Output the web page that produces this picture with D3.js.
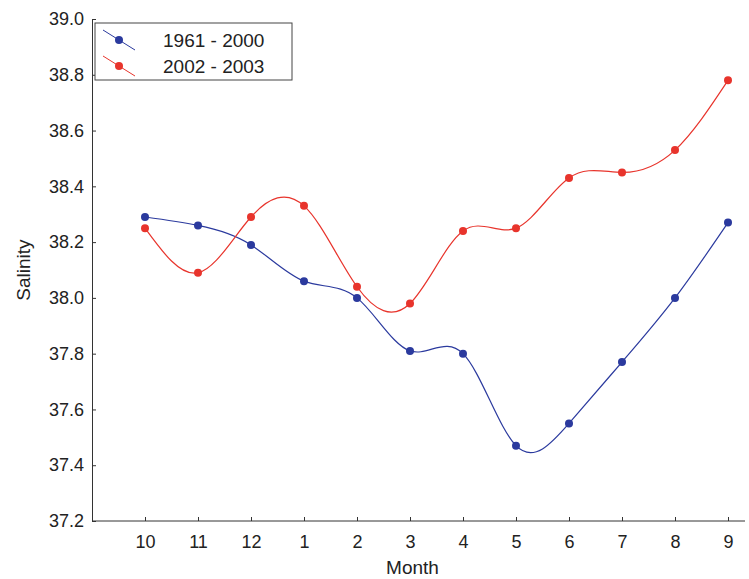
<!DOCTYPE html>
<html><head><meta charset="utf-8">
<script src="https://cdn.jsdelivr.net/npm/d3@7"></script>
<style>body{margin:0;background:#fff}text{font-family:"Liberation Sans",Arial,sans-serif;fill:#222}</style>
</head><body>
<script>
var months = ["10","11","12","1","2","3","4","5","6","7","8","9"];
var series1 = [38.29, 38.26, 38.19, 38.06, 38.00, 37.81, 37.80, 37.47, 37.55, 37.77, 38.00, 38.27];
var series2 = [38.25, 38.09, 38.29, 38.33, 38.04, 37.98, 38.24, 38.25, 38.43, 38.45, 38.53, 38.78];
var yTicks = [37.2, 37.4, 37.6, 37.8, 38.0, 38.2, 38.4, 38.6, 38.8, 39.0];
var names = ["1961 - 2000", "2002 - 2003"];
var colors = ["#2b3a9e", "#e8342c"];

var W = 749, H = 579, m = {l: 92, r: 4, t: 19, b: 58};
var svg = d3.select("body").append("svg").attr("width", W).attr("height", H);

var x = d3.scalePoint().domain(months).range([m.l + 53, m.l + 53 * 12]);
var y = d3.scaleLinear().domain([37.2, 39.0]).range([H - m.b, m.t]);

var gx = svg.append("g").attr("transform", "translate(0," + (H - m.b) + ")")
  .call(d3.axisBottom(x).tickSizeInner(-4).tickSizeOuter(0).tickPadding(14));
gx.select(".domain").attr("d", "M" + m.l + ",0H" + (W - m.r));
var gy = svg.append("g").attr("transform", "translate(" + m.l + ",0)")
  .call(d3.axisLeft(y).tickValues(yTicks).tickFormat(d3.format(".1f")).tickSizeInner(-4).tickSizeOuter(0).tickPadding(8));
svg.selectAll(".tick text").style("font-size", "18px");
svg.selectAll(".domain, .tick line").attr("stroke", "#333");

svg.append("text").attr("x", (m.l + W) / 2 - 8).attr("y", H - 5).attr("text-anchor", "middle")
  .style("font-size", "19px").text("Month");
svg.append("text").attr("transform", "translate(30," + ((H - m.b + m.t) / 2) + ") rotate(-90)")
  .attr("text-anchor", "middle").style("font-size", "19px").text("Salinity");

var line = d3.line().x(function(d, i){ return x(months[i]); }).y(function(d){ return y(d); }).curve(d3.curveNatural);

[series1, series2].forEach(function(s, k){
  svg.append("path").datum(s).attr("d", line).attr("fill", "none").attr("stroke", colors[k]).attr("stroke-width", 1.2);
  svg.selectAll(".pt" + k).data(s).enter().append("circle")
    .attr("cx", function(d, i){ return x(months[i]); }).attr("cy", function(d){ return y(d); })
    .attr("r", 4).attr("fill", colors[k]);
});

var lg = svg.append("g").attr("transform", "translate(95,23)");
lg.append("rect").attr("width", 197).attr("height", 57).attr("fill", "#fff").attr("stroke", "#444");
names.forEach(function(n, k){
  var yy = 17 + k * 26;
  lg.append("line").attr("x1", 8).attr("x2", 40).attr("y1", yy - 10).attr("y2", yy + 10).attr("stroke", colors[k]);
  lg.append("circle").attr("cx", 24).attr("cy", yy).attr("r", 4).attr("fill", colors[k]);
  lg.append("text").attr("x", 68).attr("y", yy + 7).style("font-size", "19px").text(n);
});
</script>
</body></html>
